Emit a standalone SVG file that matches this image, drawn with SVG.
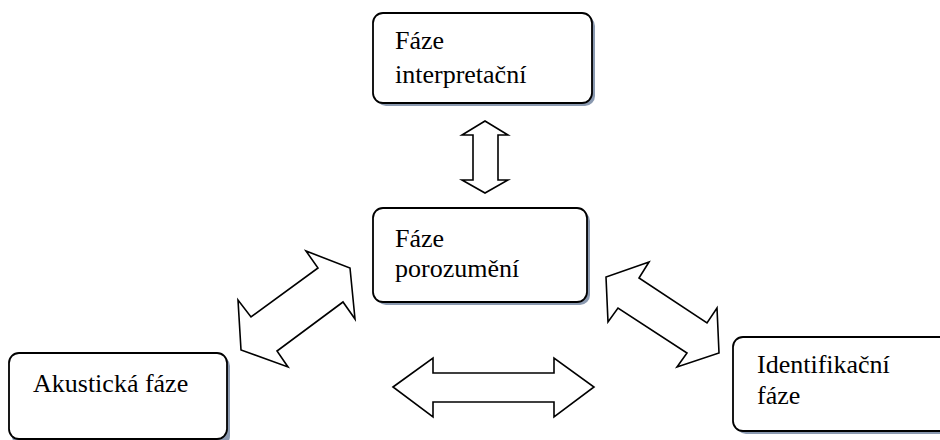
<svg xmlns="http://www.w3.org/2000/svg" width="940" height="440" viewBox="0 0 940 440">
  <style>
    .box { fill: #ffffff; stroke: #000000; stroke-width: 1.8; }
    .shadow { fill: #8a99b0; }
    .lbl { font-family: "Liberation Serif", "Times New Roman", serif; font-size: 26px; fill: #000000; }
    .arrow { fill: #ffffff; stroke: #000000; stroke-width: 1.6; stroke-linejoin: miter; }
  </style>
  <rect width="940" height="440" fill="#ffffff"/>

  <g id="node-interpretacni">
    <rect class="shadow" x="376" y="16" width="219" height="90" rx="10"/>
    <rect class="box" x="373" y="13" width="219" height="90" rx="10"/>
    <text class="lbl" x="395" y="49">Fáze</text>
    <text class="lbl" x="395" y="83">interpretační</text>
  </g>

  <g id="node-porozumeni">
    <rect class="shadow" x="376" y="211" width="214" height="94" rx="10"/>
    <rect class="box" x="373" y="208" width="214" height="94" rx="10"/>
    <text class="lbl" x="395" y="247">Fáze</text>
    <text class="lbl" x="395" y="277">porozumění</text>
  </g>

  <g id="node-akusticka">
    <rect class="shadow" x="12" y="356" width="218" height="90" rx="10"/>
    <rect class="box" x="9" y="353" width="218" height="86" rx="10"/>
    <text class="lbl" x="33" y="392">Akustická fáze</text>
  </g>

  <g id="node-identifikacni">
    <rect class="shadow" x="736" y="340" width="220" height="94" rx="10"/>
    <rect class="box" x="733" y="337" width="220" height="94" rx="10"/>
    <text class="lbl" x="757" y="373">Identifikační</text>
    <text class="lbl" x="757" y="404">fáze</text>
  </g>

  <g id="connectors">
    <polygon class="arrow" points="485,121 508,135 498,135 498,180 508,180 485,193 462,180 473,180 473,135 462,135"/>
    <polygon class="arrow" points="306,251 318,268 251,317 238,300 241,350 288,367 277,351 343,302 355,319 350,268"/>
    <polygon class="arrow" points="649,262 639,278 707,323 717,308 719,353 677,367 687,353 618,308 608,322 606,277"/>
    <polygon class="arrow" points="393,387 433,358 433,373 554,373 554,358 594,387 554,417 554,402 433,402 433,417"/>
  </g>
</svg>
